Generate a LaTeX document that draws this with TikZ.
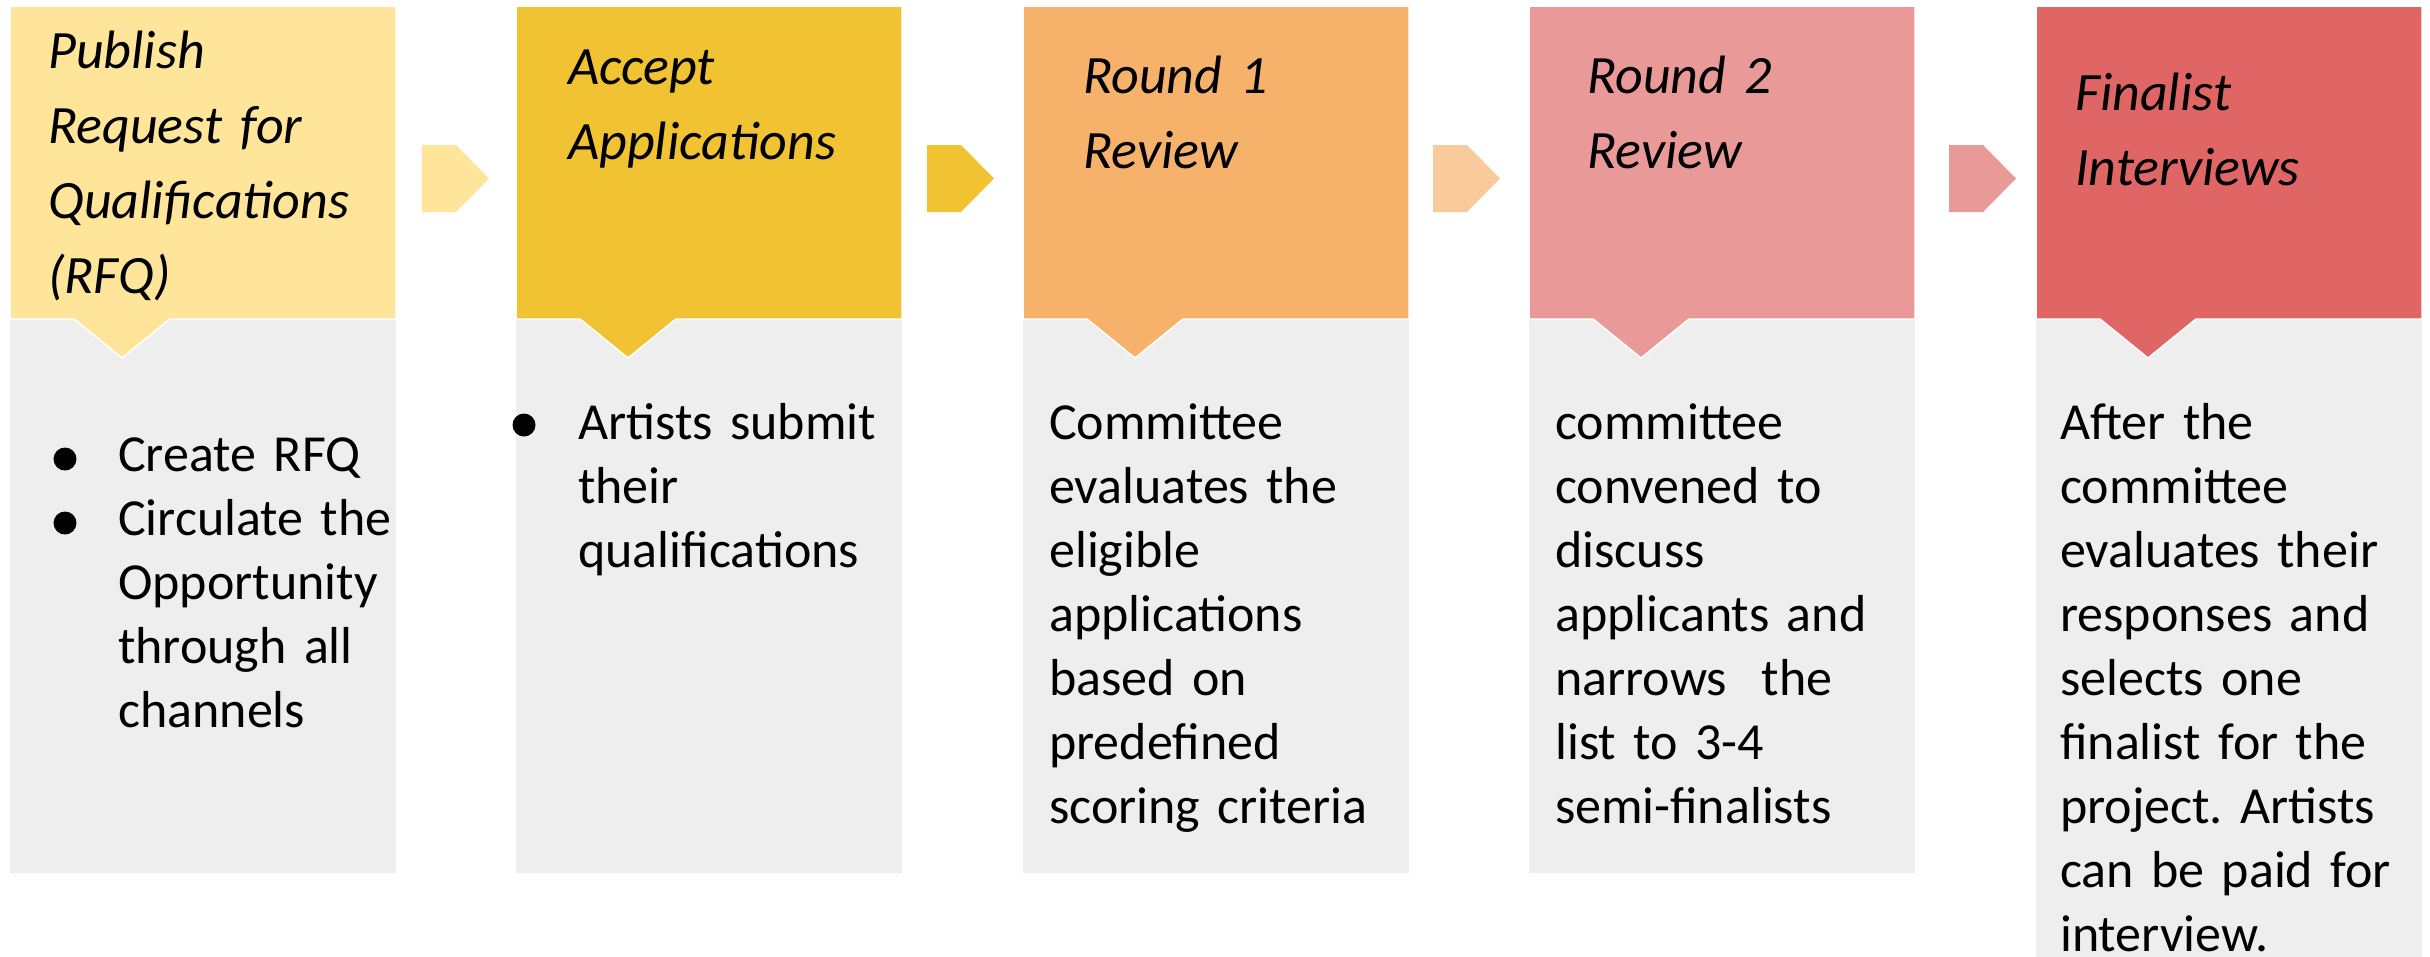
\documentclass[tikz,border=0pt]{standalone}
\usepackage{fontspec}
\setmainfont{Carlito}
\frenchspacing
\definecolor{hdrA}{HTML}{FFE599}
\definecolor{hdrB}{HTML}{F1C232}
\definecolor{hdrC}{HTML}{F6B26B}
\definecolor{hdrD}{HTML}{EA9999}
\definecolor{hdrE}{HTML}{E06666}
\definecolor{chevC}{HTML}{F9CB9C}
\definecolor{bodygrey}{HTML}{EEEEEE}
\tikzset{
  headtext/.style={anchor=base west, inner sep=0pt, text width=380pt, align=left,
    font=\fontsize{54}{75}\selectfont\itshape},
  bodytext/.style={anchor=base west, inner sep=0pt, text width=400pt, align=left,
    font=\fontsize{52}{64}\selectfont},
  dot/.style={circle, fill=black, inner sep=0pt, minimum size=23pt},
  headshape/.style={draw=white, line width=1.5pt},
}
\begin{document}
\begin{tikzpicture}[x=1pt,y=-1pt]
\useasboundingbox (0,0) rectangle (2430,956);
\fill[white] (0,0) rectangle (2430,956);

% step columns: grey body with a coloured header carrying a downward notch
\foreach \L/\col/\bot in {10/hdrA/873, 516/hdrB/873, 1023/hdrC/873, 1529/hdrD/873, 2036/hdrE/970} {
  \fill[bodygrey] (\L,319) rectangle (\L+386,\bot);
  \filldraw[headshape, fill=\col] (\L,6) -- (\L+386,6) -- (\L+386,319) -- (\L+160,319)
    -- (\L+112,358) -- (\L+64,319) -- (\L,319) -- cycle;
}

% chevrons between the columns
\foreach \X/\col in {422/hdrA, 927/hdrB, 1433/chevC, 1949/hdrD} {
  \fill[\col] (\X,145) -- ++(34,0) -- ++(33,33.5) -- ++(-33,33.5) -- ++(-34,0) -- cycle;
}

% header titles
\node[headtext] (h1) at (48,68) {Publish\\Request for\\Qualifications\\(RFQ)};
\node[headtext] (h2) at (568,84) {Accept\\Applications};
\node[headtext] (h3) at (1083,93) {Round 1\\Review};
\node[headtext] (h4) at (1587,93) {Round 2\\Review};
\node[headtext] (h5) at (2075,110) {Finalist\\Interviews};

% body texts
\node[bodytext] (t1) at (118,471) {Create RFQ\\Circulate the\\Opportunity\\through all\\channels};
\node[dot] (d1a) at (65,459) {};
\node[dot] (d1b) at (65,523) {};
\node[bodytext] (t2) at (578,439) {Artists submit\\their\\qualifications};
\node[dot] (d2) at (524,425) {};
\node[bodytext] (t3) at (1049,439) {Committee\\evaluates the\\eligible\\applications\\based on\\predefined\\scoring criteria};
\node[bodytext] (t4) at (1555,439) {committee\\convened to\\discuss\\applicants and\\narrows~~the\\list to 3-4\\semi-finalists};
\node[bodytext] (t5) at (2060,439) {After the\\committee\\evaluates their\\responses and\\selects one\\finalist for the\\project. Artists\\can be paid for\\interview.};
\end{tikzpicture}
\end{document}
